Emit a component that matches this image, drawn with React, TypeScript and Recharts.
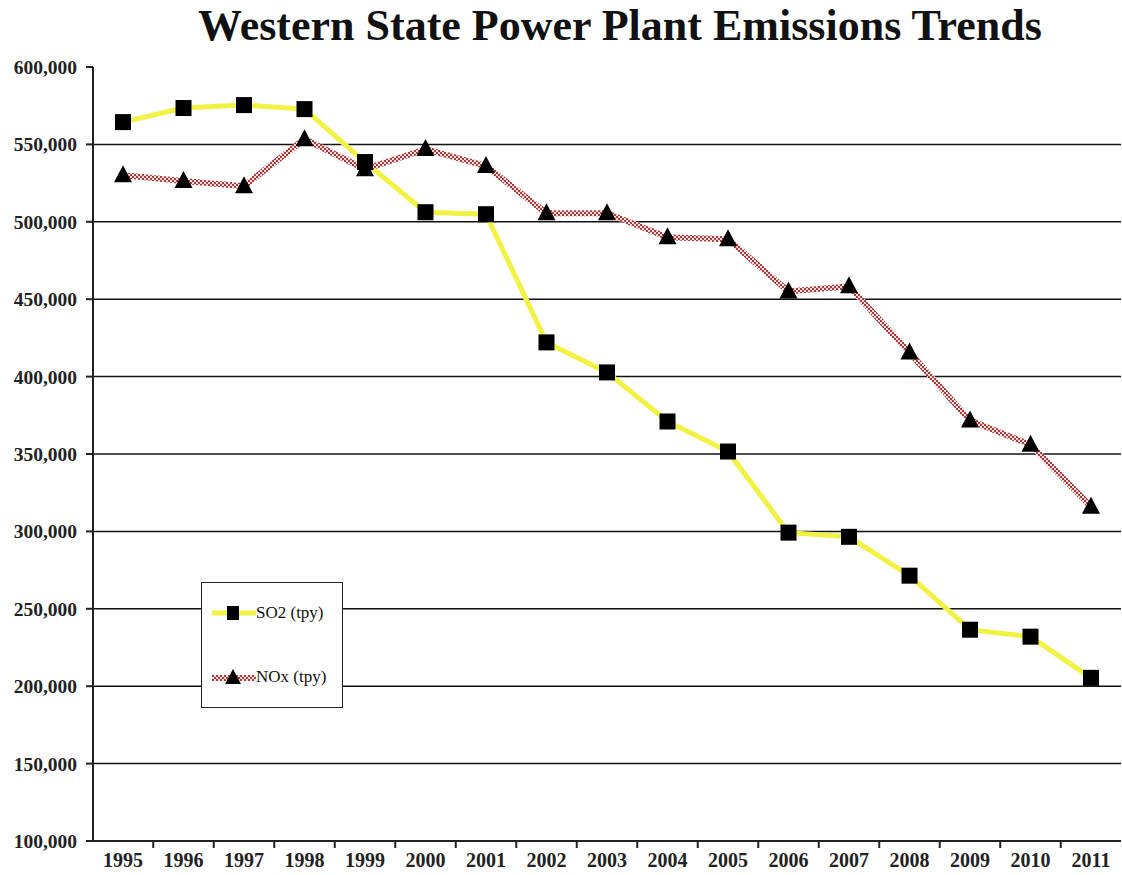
import { LineChart, Line, XAxis, YAxis, ReferenceLine, Legend } from 'recharts';

const YEARS = ['1995', '1996', '1997', '1998', '1999', '2000', '2001', '2002', '2003', '2004', '2005', '2006', '2007', '2008', '2009', '2010', '2011'];

const SO2 = [564400, 573500, 575400, 572800, 538600, 506200, 504900, 422100, 402700, 371000, 351600, 299200, 296500, 271400, 236500, 232000, 205400];

const NOX = [530100, 526300, 523000, 553400, 534000, 547000, 536000, 505600, 505600, 490000, 488700, 455000, 458300, 415600, 371700, 356000, 316000];

const Y_TICKS = [100000, 150000, 200000, 250000, 300000, 350000, 400000, 450000, 500000, 550000, 600000];

const GRID_VALUES = Y_TICKS.filter((v) => v < 600000);

const data = YEARS.map((year, i) => ({ year, so2: SO2[i], nox: NOX[i] }));

const SERIF = '"Liberation Serif", "Times New Roman", serif';
const PAD = 30;
const STEP = (1028 - 2 * PAD) / (YEARS.length - 1);

const SquareDot = ({ cx, cy, index }: any) => (
  <rect key={`sq-${index}`} x={cx - 8} y={cy - 8} width={16} height={16} fill="#000" />
);

const TriangleDot = ({ cx, cy, index }: any) => (
  <path key={`tr-${index}`} d={`M${cx},${cy - 10} L${cx + 9},${cy + 7} L${cx - 9},${cy + 7} Z`} fill="#000" />
);

const YearTick = ({ x, y, payload, index }: any) => (
  <g>
    {index > 0 && <line x1={x - STEP / 2} x2={x - STEP / 2} y1={y - 8} y2={y - 1} stroke="#222" strokeWidth={2} />}
    <text x={x} y={y + 18} textAnchor="middle" fontFamily={SERIF} fontWeight="bold" fontSize={20} fill="#222">
      {payload.value}
    </text>
  </g>
);

const LegendBox = () => (
  <div
    style={{
      width: 140,
      height: 124,
      border: '1.5px solid #222',
      background: '#fff',
      fontFamily: SERIF,
      fontSize: 17,
      color: '#111',
      position: 'relative',
    }}
  >
    <div style={{ position: 'absolute', left: 10, top: 20, display: 'flex', alignItems: 'center' }}>
      <svg width={44} height={20}>
        <line x1={0} x2={44} y1={10} y2={10} stroke="#f2f244" strokeWidth={5} />
        <rect x={15} y={3} width={12} height={14} fill="#000" />
      </svg>
      <span>SO2 (tpy)</span>
    </div>
    <div style={{ position: 'absolute', left: 10, top: 84, display: 'flex', alignItems: 'center' }}>
      <svg width={44} height={20}>
        <line x1={0} x2={44} y1={11} y2={11} stroke="url(#hatch)" strokeWidth={6} />
        <path d="M21,2 L29,17 L13,17 Z" fill="#000" />
      </svg>
      <span>NOx (tpy)</span>
    </div>
  </div>
);

export default function App() {
  return (
    <div style={{ position: 'absolute', left: 0, top: 0, width: 1122, height: 875, background: '#fff' }}>
      <div
        style={{
          position: 'absolute',
          left: 0,
          width: 1240,
          top: 0,
          textAlign: 'center',
          fontFamily: SERIF,
          fontWeight: 'bold',
          fontSize: 44,
          color: '#111',
        }}
      >
        Western State Power Plant Emissions Trends
      </div>
      <LineChart width={1122} height={875} data={data} margin={{ top: 67, right: 1, bottom: 0, left: 0 }}>
        <defs>
          <pattern id="hatch" patternUnits="userSpaceOnUse" width={4} height={4}>
            <rect x={0} y={0} width={4} height={4} fill="#f3e0e0" />
            <rect x={0} y={0} width={2} height={2} fill="#b03a3a" />
            <rect x={2} y={2} width={2} height={2} fill="#b03a3a" />
          </pattern>
        </defs>
        <XAxis
          dataKey="year"
          height={34}
          padding={{ left: PAD, right: PAD }}
          axisLine={{ stroke: '#222', strokeWidth: 2 }}
          tickLine={false}
          tick={<YearTick />}
          interval={0}
        />
        <YAxis
          width={93}
          domain={[100000, 600000]}
          ticks={Y_TICKS}
          interval={0}
          tickFormatter={(v: number) => v.toLocaleString('en-US')}
          axisLine={{ stroke: '#222', strokeWidth: 2 }}
          tickLine={{ stroke: '#222', strokeWidth: 2 }}
          tickSize={7}
          tickMargin={9}
          tick={{ fontFamily: SERIF, fontWeight: 'bold', fontSize: 19.5, fill: '#222' }}
        />
        {GRID_VALUES.map((v) => (
          <ReferenceLine key={v} y={v} stroke="#111" strokeWidth={1.5} />
        ))}
        <Legend
          layout="vertical"
          align="center"
          verticalAlign="middle"
          content={<LegendBox />}
          wrapperStyle={{ left: 201, top: 582, width: 143, height: 127 }}
        />
        <Line
          dataKey="so2"
          name="SO2 (tpy)"
          stroke="#f2f244"
          strokeWidth={5}
          dot={SquareDot}
          activeDot={false}
          isAnimationActive={false}
        />
        <Line
          dataKey="nox"
          name="NOx (tpy)"
          stroke="url(#hatch)"
          strokeWidth={6}
          dot={TriangleDot}
          activeDot={false}
          isAnimationActive={false}
        />
      </LineChart>
    </div>
  );
}
